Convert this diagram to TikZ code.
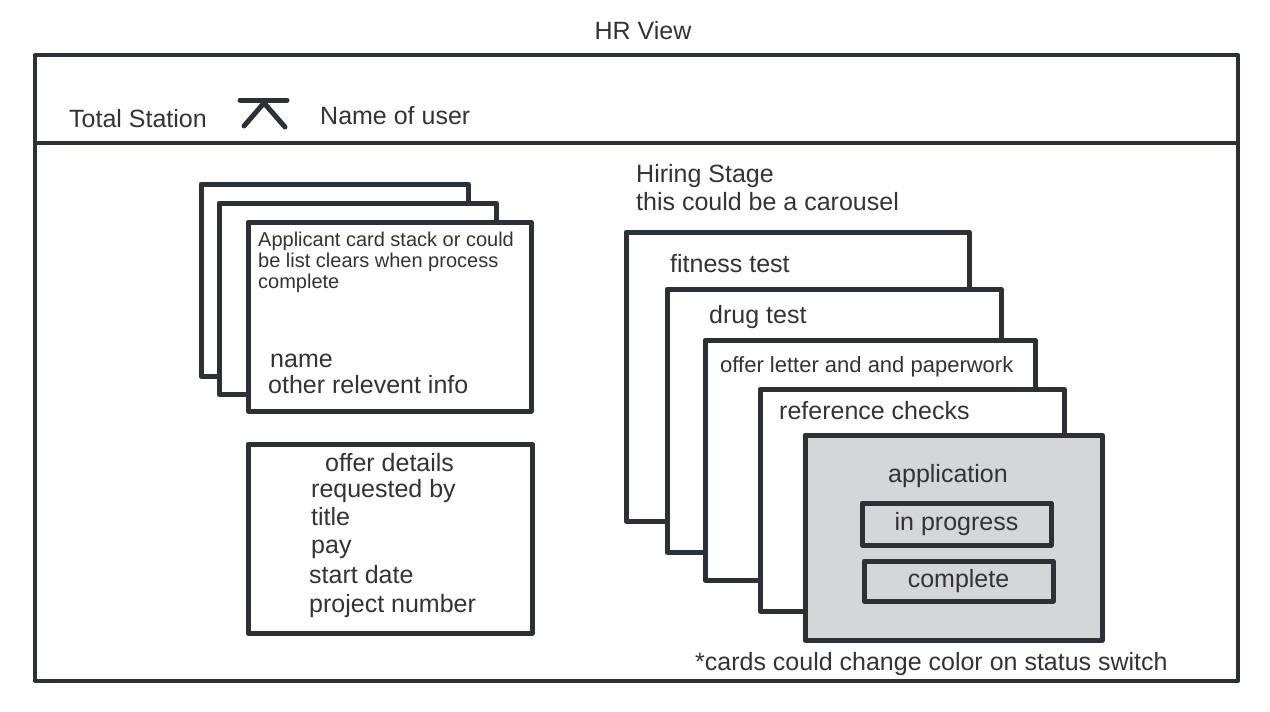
\documentclass[tikz,border=0pt]{standalone}
\usepackage{fontspec}
\setmainfont{Liberation Sans}
\definecolor{ink}{HTML}{2B3136}
\definecolor{txt}{HTML}{333333}
\definecolor{appfill}{HTML}{D5D6D8}
\begin{document}
\begin{tikzpicture}[x=1pt,y=-1pt,
  box/.style={draw=ink, line width=5pt, fill=white, line join=round, outer sep=0pt, inner sep=0pt, anchor=north west},
  frame/.style={box, line width=4pt, fill=none},
  lbl/.style={text=txt, inner sep=0pt, anchor=base west, font=\fontsize{25}{30}\selectfont},
  small/.style={lbl, font=\fontsize{20}{23}\selectfont},
  mid/.style={lbl, font=\fontsize{22}{26}\selectfont},
  btn/.style={box, fill=appfill, text=txt, font=\fontsize{25}{30}\selectfont},
  stroke/.style={draw=ink, line width=5pt, line cap=round, line join=round}]
\useasboundingbox (0,0) rectangle (1270,712);

% page frame and header
\node[frame, minimum width=1203pt, minimum height=626pt] (page) at (35,55) {};
\coordinate (h1) at (35,143);
\coordinate (h2) at (1238,143);
\draw[stroke, line width=4pt] (h1) -- (h2);
\node[lbl, anchor=base] (title) at (643,39) {HR View};
\node[lbl] (station) at (69,127) {Total Station};
\node[lbl] (user) at (320,124) {Name of user};
\draw[stroke] (240,100) -- (287,100);
\draw[stroke] (244,126) -- (264,103) -- (285,127);

% applicant card stack
\node[box, minimum width=267pt, minimum height=192pt] (a1) at (201,184) {};
\node[box, minimum width=277pt, minimum height=191pt] (a2) at (219,203) {};
\node[box, minimum width=283pt, minimum height=189pt] (a3) at (248,222) {};
\node[small] (ap1) at (258,246) {Applicant card stack or could};
\node[small] (ap2) at (258,267) {be list clears when process};
\node[small] (ap3) at (258,288) {complete};
\node[lbl] (nm) at (270,367) {name};
\node[lbl] (oi) at (268,393) {other relevent info};

% offer details
\node[box, minimum width=284pt, minimum height=189pt] (od) at (248,444) {};
\node[lbl] (od1) at (325,471) {offer details};
\node[lbl] (od2) at (311,497) {requested by};
\node[lbl] (od3) at (311,525) {title};
\node[lbl] (od4) at (311,553) {pay};
\node[lbl] (od5) at (309,583) {start date};
\node[lbl] (od6) at (309,612) {project number};

% hiring stage
\node[lbl] (hs1) at (636,182) {Hiring Stage};
\node[lbl] (hs2) at (636,210) {this could be a carousel};
\node[box, minimum width=343pt, minimum height=289pt] (s1) at (626,232) {};
\node[lbl] (t1) at (670,272) {fitness test};
\node[box, minimum width=334pt, minimum height=263pt] (s2) at (667,289) {};
\node[lbl] (t2) at (709,323) {drug test};
\node[box, minimum width=330pt, minimum height=240pt] (s3) at (705,340) {};
\node[mid] (t3) at (720,372) {offer letter and and paperwork};
\node[box, minimum width=304pt, minimum height=222pt] (s4) at (760,389) {};
\node[lbl] (t4) at (779,419) {reference checks};
\node[box, fill=appfill, minimum width=297pt, minimum height=205pt] (s5) at (805,435) {};
\node[lbl, anchor=base] (t5) at (948,482) {application};
\node[btn, minimum width=189pt, minimum height=42pt] (prog) at (862,503) {in progress};
\node[btn, minimum width=189pt, minimum height=40pt] (comp) at (864,561) {complete};
\node[lbl] (note) at (695,670) {*cards could change color on status switch};
\end{tikzpicture}
\end{document}
